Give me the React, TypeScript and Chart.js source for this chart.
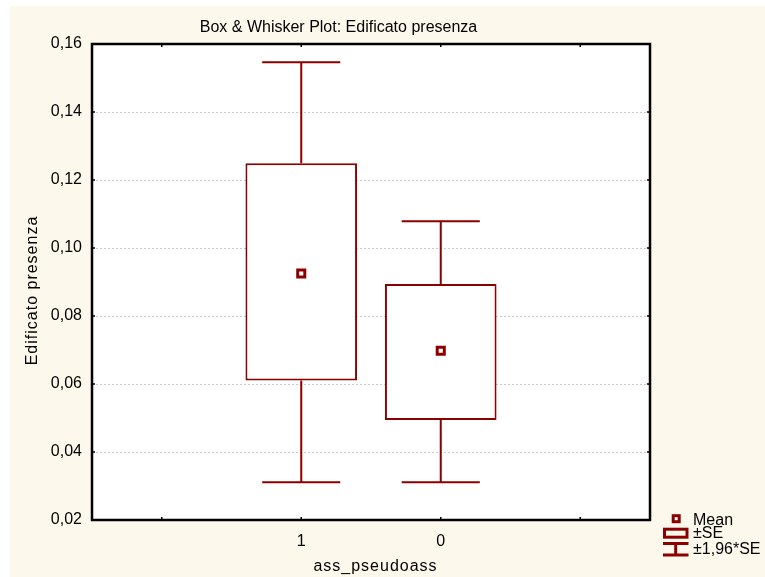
import React, { useEffect, useRef } from 'react';
import { Chart, registerables } from 'chart.js';

Chart.register(...registerables);

const categories = ['', '1', '0', ''];
const means: (number | null)[] = [null, 0.0925, 0.0698, null];
const seLow: (number | null)[] = [null, 0.061, 0.0494, null];
const seHigh: (number | null)[] = [null, 0.1249, 0.0894, null];
const ciLow: (number | null)[] = [null, 0.0311, 0.0311, null];
const ciHigh: (number | null)[] = [null, 0.1546, 0.1079, null];
const yMin = 0.02;
const yMax = 0.16;
const yStep = 0.02;
const titleText = 'Box & Whisker Plot: Edificato presenza';
const xTitle = 'ass_pseudoass';
const yTitle = 'Edificato presenza';
const legendLabels = ['Mean', '±SE', '±1,96*SE'];

const DARK = '#8B0000';
const CREAM = '#FDF8EC';
const FONT = 'Arial, "Liberation Sans", sans-serif';

export default function App() {
  const ref = useRef<HTMLCanvasElement>(null);

  useEffect(() => {
    document.body.style.margin = '0';
    const canvas = ref.current!;

    const bgPlugin = {
      id: 'plotbg',
      beforeDraw(chart: any) {
        const { ctx, chartArea: a, width, height } = chart;
        ctx.save();
        ctx.fillStyle = CREAM;
        ctx.fillRect(0, 0, width, height);
        ctx.fillStyle = '#ffffff';
        ctx.fillRect(a.left, a.top, a.right - a.left, a.bottom - a.top);
        ctx.restore();
      },
    };

    const whiskerPlugin = {
      id: 'whiskers',
      beforeDatasetsDraw(chart: any) {
        const { ctx } = chart;
        const x = chart.scales.x;
        const y = chart.scales.y;
        const catW = x.getPixelForValue(1) - x.getPixelForValue(0);
        const half = catW * 0.28;
        ctx.save();
        ctx.strokeStyle = DARK;
        ctx.lineWidth = 2;
        for (let i = 0; i < categories.length; i++) {
          if (ciLow[i] == null || ciHigh[i] == null) continue;
          const cx = x.getPixelForValue(i);
          const yTop = y.getPixelForValue(ciHigh[i]);
          const yBot = y.getPixelForValue(ciLow[i]);
          const yBoxTop = y.getPixelForValue(seHigh[i]);
          const yBoxBot = y.getPixelForValue(seLow[i]);
          ctx.beginPath();
          ctx.moveTo(cx, yTop);
          ctx.lineTo(cx, yBoxTop);
          ctx.moveTo(cx, yBoxBot);
          ctx.lineTo(cx, yBot);
          ctx.moveTo(cx - half, yTop);
          ctx.lineTo(cx + half, yTop);
          ctx.moveTo(cx - half, yBot);
          ctx.lineTo(cx + half, yBot);
          ctx.stroke();
        }
        ctx.restore();
      },
    };

    const framePlugin = {
      id: 'frame',
      afterDraw(chart: any) {
        const { ctx, chartArea: a } = chart;
        const x = chart.scales.x;
        const y = chart.scales.y;
        ctx.save();
        ctx.strokeStyle = '#000';
        ctx.lineWidth = 2.5;
        ctx.strokeRect(a.left, a.top, a.right - a.left, a.bottom - a.top);
        ctx.lineWidth = 1.5;
        ctx.beginPath();
        for (let i = 0; i < categories.length; i++) {
          const px = x.getPixelForValue(i);
          ctx.moveTo(px, a.bottom);
          ctx.lineTo(px, a.bottom - 3);
          ctx.moveTo(px, a.top);
          ctx.lineTo(px, a.top + 3);
        }
        for (let v = yMin; v <= yMax + 1e-9; v += yStep) {
          const py = y.getPixelForValue(v);
          ctx.moveTo(a.left, py);
          ctx.lineTo(a.left + 3, py);
          ctx.moveTo(a.right, py);
          ctx.lineTo(a.right - 3, py);
        }
        ctx.stroke();

        ctx.fillStyle = '#000';
        ctx.font = `16px ${FONT}`;
        ctx.textAlign = 'center';
        ctx.textBaseline = 'alphabetic';
        ctx.fillText(titleText, 328.5, 25.7);
        ctx.save();
        (ctx as any).letterSpacing = '1px';
        ctx.fillText(xTitle, 365.5, 564.5);
        ctx.translate(23, 284.5);
        ctx.rotate(-Math.PI / 2);
        ctx.textBaseline = 'middle';
        ctx.fillText(yTitle, 0, 0);
        ctx.restore();

        ctx.strokeStyle = DARK;
        ctx.fillStyle = '#fff';
        ctx.lineWidth = 3;
        ctx.fillRect(663.2, 509.7, 6, 6);
        ctx.strokeRect(663.2, 509.7, 6, 6);
        ctx.strokeRect(654.5, 523.2, 22.5, 8);
        ctx.beginPath();
        ctx.moveTo(653, 537.5);
        ctx.lineTo(678.5, 537.5);
        ctx.moveTo(653, 549);
        ctx.lineTo(678.5, 549);
        ctx.moveTo(665.7, 537.5);
        ctx.lineTo(665.7, 549);
        ctx.stroke();
        ctx.fillStyle = '#000';
        ctx.font = `16px ${FONT}`;
        ctx.textAlign = 'left';
        ctx.textBaseline = 'middle';
        ctx.fillText(legendLabels[0], 683, 514.5);
        ctx.fillText(legendLabels[1], 683, 527.5);
        ctx.fillText(legendLabels[2], 683, 543.5);
        ctx.restore();
      },
    };

    const chart = new Chart(canvas, {
      type: 'bar',
      data: {
        labels: categories,
        datasets: [
          {
            type: 'line',
            label: 'Mean',
            data: means as any,
            showLine: false,
            pointStyle: 'rect',
            pointRadius: 5,
            pointHoverRadius: 5,
            pointBorderWidth: 3,
            pointBackgroundColor: '#fff',
            pointBorderColor: DARK,
            borderColor: DARK,
            order: 0,
          } as any,
          {
            type: 'bar',
            label: '±SE',
            data: seLow.map((l, i) => (l == null ? null : [l, seHigh[i]])) as any,
            backgroundColor: '#fff',
            borderColor: DARK,
            borderWidth: 2,
            borderSkipped: false,
            barPercentage: 0.8,
            categoryPercentage: 1,
            order: 1,
          } as any,
        ],
      },
      options: {
        responsive: false,
        animation: false,
        layout: { padding: { top: 38, right: 115, bottom: 0, left: 0 } },
        plugins: {
          legend: { display: false },
          tooltip: { enabled: false },
          title: { display: false },
        },
        scales: {
          x: {
            grid: { display: false, drawTicks: false },
            border: { display: false },
            ticks: { font: { size: 16, family: FONT }, color: '#000', padding: 12 },
            afterFit: (s: any) => {
              s.height = 57;
            },
          },
          y: {
            min: yMin,
            max: yMax,
            ticks: {
              stepSize: yStep,
              callback: (v: any) => Number(v).toFixed(2).replace('.', ','),
              font: { size: 16, family: FONT },
              color: '#000',
              padding: 10,
            },
            grid: { color: '#c8c8c8', lineWidth: 1, drawTicks: false },
            border: { display: false, dash: [2, 2] },
            afterFit: (s: any) => {
              s.width = 82;
            },
          },
        },
      } as any,
      plugins: [bgPlugin, whiskerPlugin, framePlugin],
    });

    return () => chart.destroy();
  }, []);

  return (
    <div style={{ position: 'relative', width: 765, height: 577, background: '#fff' }}>
      <canvas
        ref={ref}
        width={755}
        height={571}
        style={{ position: 'absolute', left: 10, top: 6, width: 755, height: 571 }}
      />
    </div>
  );
}
